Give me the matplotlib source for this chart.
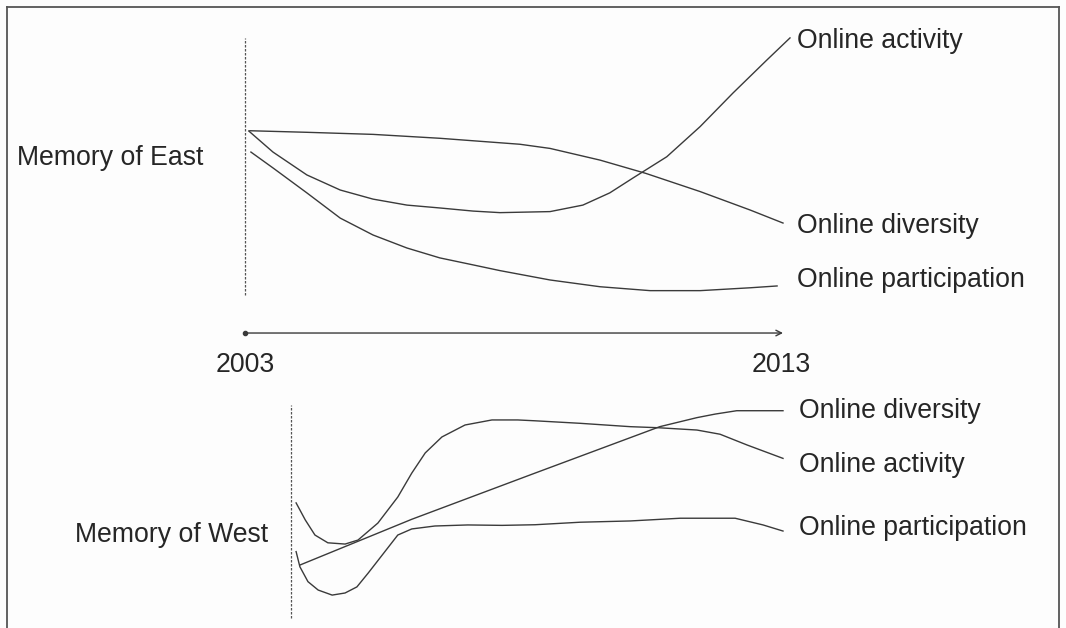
import matplotlib.pyplot as plt
from matplotlib.lines import Line2D

plt.rcParams["font.family"] = ["Liberation Sans", "DejaVu Sans"]

# East panel (years, relative level 0-100)
east_div_x = [2003.09, 2004.15, 2005.38, 2006.62, 2008.11, 2008.67, 2009.60, 2010.45,
              2011.46, 2012.39, 2013.00]
east_div_y = [65.1, 64.5, 63.7, 62.2, 59.9, 58.3, 53.8, 48.7, 41.7, 34.6, 29.6]

east_act_x = [2003.07, 2003.52, 2004.15, 2004.77, 2005.38, 2006.01, 2006.62, 2007.24,
              2007.74, 2008.67, 2009.28, 2009.78, 2010.21, 2010.84, 2011.46, 2012.07,
              2012.70, 2013.13]
east_act_y = [65.0, 56.9, 48.1, 42.3, 38.8, 36.5, 35.4, 34.2, 33.6, 34.0, 36.5, 41.2,
              46.9, 55.1, 66.7, 79.6, 92.3, 100.8]

east_par_x = [2003.11, 2003.52, 2004.15, 2004.77, 2005.38, 2006.01, 2006.62, 2007.24,
              2007.74, 2008.67, 2009.60, 2010.53, 2011.46, 2012.39, 2012.89]
east_par_y = [56.9, 50.8, 41.2, 31.5, 25.0, 20.0, 16.2, 13.5, 11.3, 7.7, 5.1, 3.6, 3.6,
              4.7, 5.4]

# West panel
west_act_x = [2003.95, 2004.12, 2004.30, 2004.54, 2004.86, 2005.10, 2005.47, 2005.84,
              2006.10, 2006.35, 2006.66, 2007.09, 2007.59, 2008.07, 2008.39, 2009.23,
              2010.16, 2010.68, 2011.40, 2011.83, 2012.33, 2013.00]
west_act_y = [51.0, 42.9, 35.7, 32.0, 31.4, 33.3, 41.4, 53.8, 65.2, 74.8, 82.4, 88.1,
              90.5, 90.5, 90.1, 88.9, 87.3, 86.8, 85.7, 83.7, 78.6, 72.2]

west_div_x = [2004.02, 2006.10, 2008.35, 2010.71, 2011.40, 2011.74, 2012.14, 2013.00]
west_div_y = [21.4, 43.2, 64.8, 87.3, 91.6, 93.3, 94.9, 94.9]

west_par_x = [2003.95, 2004.02, 2004.17, 2004.36, 2004.62, 2004.86, 2005.08, 2005.29,
              2005.60, 2005.84, 2006.10, 2006.53, 2007.14, 2007.78, 2008.39, 2009.23,
              2010.16, 2011.09, 2012.11, 2012.63, 2013.00]
west_par_y = [27.8, 20.6, 13.5, 9.5, 7.1, 8.1, 11.0, 17.6, 27.8, 35.7, 38.6, 40.0,
              40.5, 40.3, 40.6, 41.8, 42.4, 43.7, 43.7, 40.5, 37.6]

start_year, end_year = 2003, 2013

W, H = 1066, 628
line_c = "#3a3a3a"
text_c = "#262626"
fs = 19.2

fig = plt.figure(figsize=(W / 100, H / 100), dpi=100)
fig.patch.set_facecolor("#fdfdfd")

# outer frame (open at the bottom)
frame = dict(color="#555555", lw=1.3)
fig.add_artist(Line2D([7 / W, 7 / W], [1 - 7 / H, -0.01], **frame))
fig.add_artist(Line2D([7 / W, 1059 / W], [1 - 7 / H, 1 - 7 / H], **frame))
fig.add_artist(Line2D([1059 / W, 1059 / W], [1 - 7 / H, -0.01], **frame))

ax_e = fig.add_axes([245 / W, (H - 300) / H, 538 / W, 260 / H])
ax_w = fig.add_axes([245 / W, (H - 610) / H, 538 / W, 210 / H])
for ax in (ax_e, ax_w):
    ax.set_xlim(start_year, end_year)
    ax.set_ylim(0, 100)
    ax.axis("off")

kw = dict(color=line_c, lw=1.0, clip_on=False, solid_joinstyle="round")

# East
ax_e.plot([start_year, start_year], [1.9, 100.8], color="#555555", lw=0.9,
          ls=(0, (2, 1.2)), clip_on=False)
ax_e.plot(east_div_x, east_div_y, **kw)
ax_e.plot(east_act_x, east_act_y, **kw)
ax_e.plot(east_par_x, east_par_y, **kw)
ax_e.text(1998.76, 54.8, "Memory of East", fontsize=fs, color=text_c,
          ha="left", va="center")
ax_e.text(2013.26, 99.5, "Online activity", fontsize=fs, color=text_c, va="center")
ax_e.text(2013.26, 28.6, "Online diversity", fontsize=fs, color=text_c, va="center")
ax_e.text(2013.26, 7.7, "Online participation", fontsize=fs, color=text_c, va="center")

# time axis
ax_e.annotate("", xy=(end_year, -12.7), xytext=(start_year, -12.7),
              arrowprops=dict(arrowstyle="->", color=line_c, lw=1.0,
                              shrinkA=0, shrinkB=0, mutation_scale=10),
              annotation_clip=False)
ax_e.plot([start_year], [-12.7], "o", ms=3, color=line_c, clip_on=False)
ax_e.text(start_year, -25, str(start_year), fontsize=fs, color=text_c,
          ha="center", va="center")
ax_e.text(end_year - 0.03, -25, str(end_year), fontsize=fs, color=text_c,
          ha="center", va="center")

# West
ax_w.plot([2003.86, 2003.86], [-3.8, 97.6], color="#555555", lw=0.9,
          ls=(0, (2, 1.2)), clip_on=False)
ax_w.plot(west_act_x, west_act_y, **kw)
ax_w.plot(west_div_x, west_div_y, **kw)
ax_w.plot(west_par_x, west_par_y, **kw)
ax_w.text(1999.84, 35.5, "Memory of West", fontsize=fs, color=text_c,
          ha="left", va="center")
ax_w.text(2013.3, 94.7, "Online diversity", fontsize=fs, color=text_c, va="center")
ax_w.text(2013.3, 69.0, "Online activity", fontsize=fs, color=text_c, va="center")
ax_w.text(2013.3, 39.0, "Online participation", fontsize=fs, color=text_c, va="center")

fig.savefig("out.png", dpi=100, facecolor=fig.get_facecolor())
